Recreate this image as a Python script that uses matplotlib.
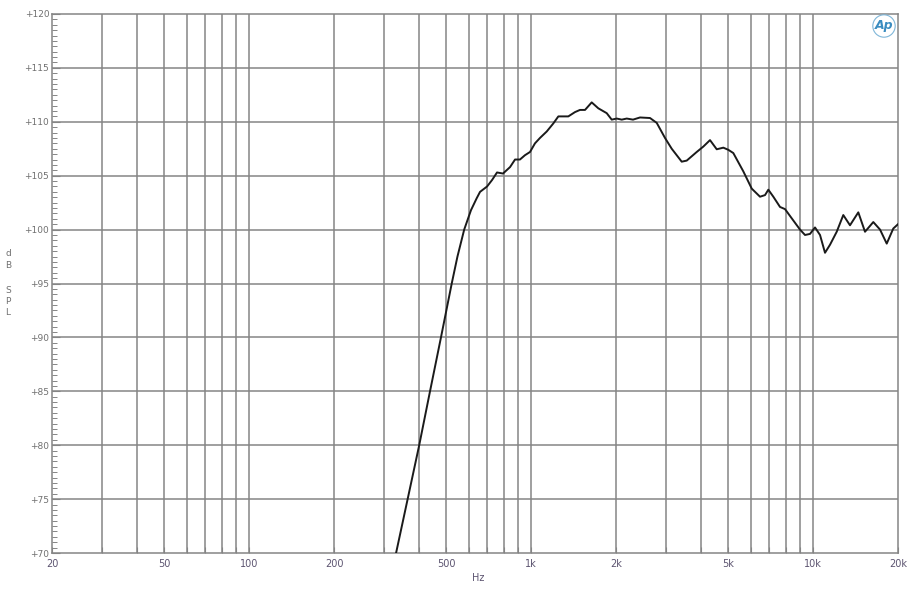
"""Frequency response (dB SPL vs Hz) in the Audio Precision style."""

import matplotlib

matplotlib.use("Agg")
import matplotlib.pyplot as plt
from matplotlib.ticker import FixedLocator, NullFormatter

freq_hz = [
    332, 401, 438, 479, 523, 548, 579, 612, 641, 659, 698, 727, 757, 795, 842,
    877, 913, 951, 991, 1032, 1075, 1136, 1199, 1249, 1301, 1355, 1431, 1490,
    1553, 1640, 1731, 1854, 1931, 2012, 2096, 2183, 2298, 2433, 2640, 2789,
    2984, 3152, 3420, 3563, 3866, 4080, 4309, 4552, 4804, 5004, 5212, 5656,
    6058, 6482, 6752, 6938, 7226, 7632, 7950, 8396, 8985, 9360, 9750, 10156,
    10580, 11020, 11482, 12126, 12794, 13514, 14462, 15276, 16346, 17272,
    18240, 19244, 20000,
]
spl_db = [
    70.0, 80.0, 85.0, 90.0, 95.0, 97.5, 100.0, 101.8, 102.9, 103.5, 104.0,
    104.6, 105.3, 105.2, 105.8, 106.5, 106.5, 106.9, 107.2, 108.0, 108.5,
    109.1, 109.85, 110.5, 110.5, 110.5, 110.9, 111.1, 111.1, 111.8, 111.25,
    110.8, 110.2, 110.3, 110.2, 110.3, 110.2, 110.4, 110.35, 109.9, 108.5,
    107.5, 106.3, 106.4, 107.2, 107.7, 108.3, 107.45, 107.6, 107.4, 107.1,
    105.4, 103.8, 103.05, 103.2, 103.7, 103.05, 102.1, 101.9, 101.05, 100.0,
    99.5, 99.6, 100.2, 99.5, 97.85, 98.6, 99.8, 101.35, 100.4, 101.6, 99.8,
    100.7, 100.0, 98.7, 100.1, 100.5,
]

x_ticks = [20, 50, 100, 200, 500, 1000, 2000, 5000, 10000, 20000]
x_tick_labels = ["20", "50", "100", "200", "500", "1k", "2k", "5k", "10k", "20k"]
y_ticks = [70, 75, 80, 85, 90, 95, 100, 105, 110, 115, 120]
y_tick_labels = ["+" + str(v) for v in y_ticks]

grid_color = "#858585"
label_color = "#707070"
xlabel_color = "#5c5470"

fig = plt.figure(figsize=(9.14, 6.0), dpi=100)
ax = fig.add_axes([0.0569, 0.0783, 0.9256, 0.8984])

ax.set_xscale("log")
ax.set_xlim(20, 20000)
ax.set_ylim(70, 120)

# grid: every decade step on x, every 5 dB on y
grid_x = [m * 10 ** e for e in range(1, 5) for m in range(1, 10)]
grid_x = [g for g in grid_x if 20 < g < 20000]
for g in grid_x:
    ax.axvline(g, color=grid_color, lw=1.1, zorder=1)
for v in y_ticks[1:-1]:
    ax.axhline(v, color=grid_color, lw=1.1, zorder=1)

ax.plot(freq_hz, spl_db, color="#1a1a1a", lw=1.4, zorder=3, clip_on=True)

for side in ax.spines.values():
    side.set_color(grid_color)
    side.set_linewidth(1.1)

ax.xaxis.set_major_locator(FixedLocator(x_ticks))
ax.set_xticklabels(x_tick_labels)
ax.xaxis.set_minor_locator(FixedLocator(grid_x))
ax.xaxis.set_minor_formatter(NullFormatter())
ax.yaxis.set_major_locator(FixedLocator(y_ticks))
ax.set_yticklabels(y_tick_labels)
ax.yaxis.set_minor_locator(FixedLocator([70 + 0.5 * i for i in range(101)]))

ax.tick_params(axis="x", which="both", direction="in", length=4, width=0.8,
               color=grid_color, labelsize=7, labelcolor=xlabel_color, pad=4)
ax.tick_params(axis="y", which="major", direction="in", length=6, width=0.8,
               color=grid_color, labelsize=6.5, labelcolor=label_color, pad=2)
ax.tick_params(axis="y", which="minor", direction="in", length=3.5, width=0.7,
               color=grid_color)

fig.text(478 / 914, 1 - 578 / 600, "Hz", fontsize=7, color=xlabel_color,
         ha="center", va="center")
for ch, ypix in zip(["d", "B", "S", "P", "L"], [254, 266, 290, 302, 313]):
    fig.text(8 / 914, 1 - ypix / 600, ch, fontsize=6.5,
             color=label_color, ha="center", va="center")

# Audio Precision logo in the top right corner
fig.text(884 / 914, 1 - 26 / 600, "Ap", fontsize=9, color="#3a8cc0",
         fontstyle="italic", fontweight="bold", ha="center", va="center",
         bbox=dict(boxstyle="circle,pad=0.15", fc="none", ec="#7fb6d8", lw=0.8))

fig.savefig("out.png", dpi=100)
